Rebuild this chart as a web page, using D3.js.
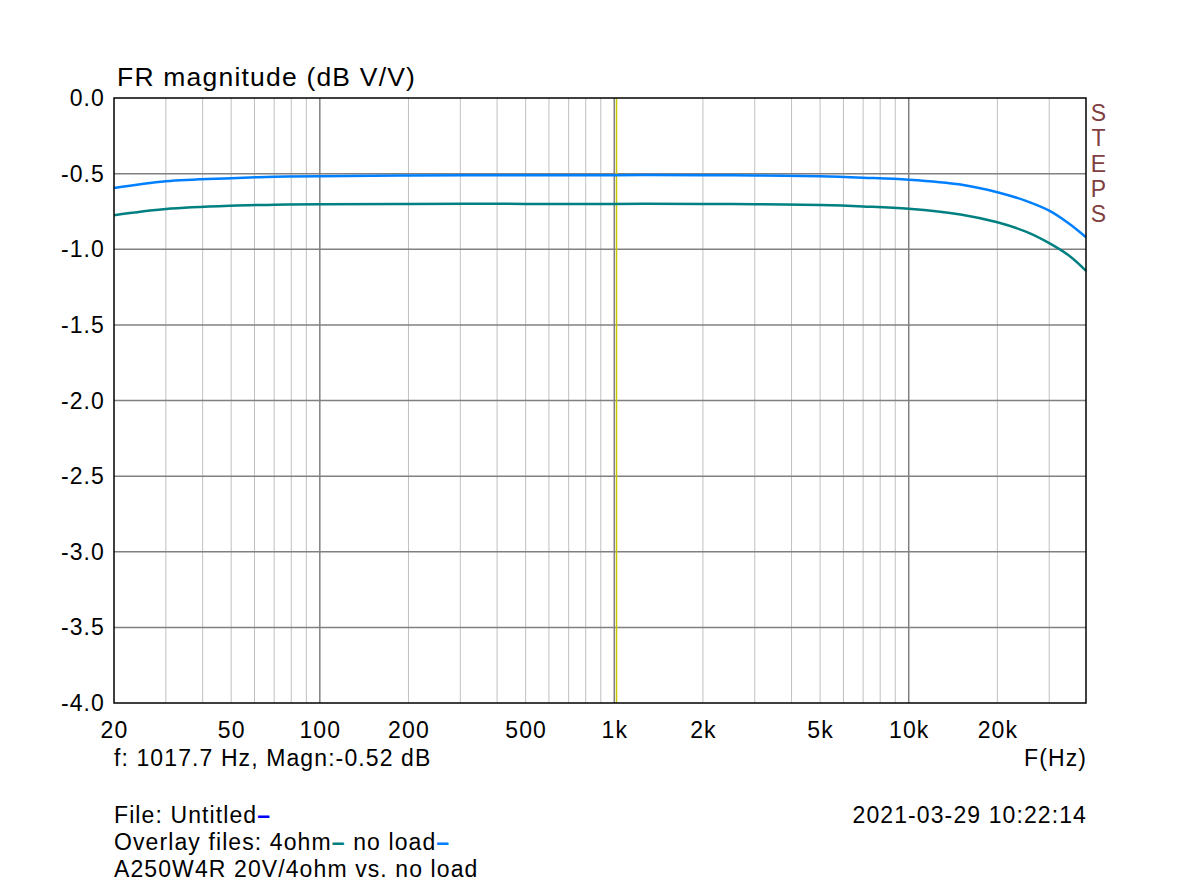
<!DOCTYPE html>
<html lang="en">
<head>
<meta charset="UTF-8">
<title>FR magnitude</title>
<script src="https://cdn.jsdelivr.net/npm/d3@7"></script>
<style>
  body { margin: 0; background: #fff; }
  svg text { font-family: "Liberation Sans", Arial, sans-serif; fill: #000; letter-spacing: 1.1px; }
</style>
</head>
<body>
<script>
// frequency points (Hz)
const freqs = [20, 30, 50, 70, 100, 200, 500, 1000, 2000, 3000, 5000, 7000, 10000, 15000, 20000, 25000, 30000, 35000, 40000];
// "no load" overlay (light blue)
const noLoad = [-0.595, -0.550, -0.530, -0.521, -0.517, -0.512, -0.510, -0.510, -0.510, -0.512, -0.518, -0.527, -0.540, -0.572, -0.623, -0.680, -0.745, -0.830, -0.921];
// "4ohm" overlay (teal)
const fourOhm = [-0.775, -0.734, -0.712, -0.706, -0.703, -0.700, -0.700, -0.700, -0.700, -0.702, -0.708, -0.717, -0.732, -0.770, -0.822, -0.884, -0.960, -1.042, -1.143];

const xTicks = [20, 50, 100, 200, 500, 1000, 2000, 5000, 10000, 20000];
const xTickLabels = ["20", "50", "100", "200", "500", "1k", "2k", "5k", "10k", "20k"];
const yTicks = [0, -0.5, -1, -1.5, -2, -2.5, -3, -3.5, -4];
const cursorFreq = 1017.7;

const width = 1200, height = 888;
const plotLeft = 114, plotRight = 1086, plotTop = 98, plotBottom = 703;

const svg = d3.select("body").append("svg")
    .attr("width", width)
    .attr("height", height);

const x = d3.scaleLog().domain([20, 40000]).range([plotLeft, plotRight]);
const y = d3.scaleLinear().domain([-4, 0]).range([plotBottom, plotTop]);

// minor + major vertical grid
const gridFreqs = [];
[10, 100, 1000, 10000].forEach(dec => {
    for (let k = 1; k <= 9; k++) {
        const f = dec * k;
        if (f > 20 && f < 40000) gridFreqs.push(f);
    }
});
const isMajor = d => [100, 1000, 10000].includes(d);
svg.append("g")
    .selectAll("line")
    .data(gridFreqs)
    .join("line")
    .attr("x1", d => x(d)).attr("x2", d => x(d))
    .attr("y1", plotTop).attr("y2", plotBottom)
    .attr("stroke", d => isMajor(d) ? "#808080" : "#c0c0c0")
    .attr("stroke-width", d => isMajor(d) ? 1.5 : 1);

// horizontal grid
svg.append("g")
    .selectAll("line")
    .data(yTicks.slice(1, -1))
    .join("line")
    .attr("x1", plotLeft).attr("x2", plotRight)
    .attr("y1", d => y(d)).attr("y2", d => y(d))
    .attr("stroke", "#808080")
    .attr("stroke-width", 1.5);

// cursor
svg.append("line")
    .attr("x1", x(cursorFreq)).attr("x2", x(cursorFreq))
    .attr("y1", plotTop).attr("y2", plotBottom)
    .attr("stroke", "#c8c800")
    .attr("stroke-width", 1.5);

// curves
const line = d3.line()
    .x(d => x(d[0]))
    .y(d => y(d[1]))
    .curve(d3.curveCatmullRom.alpha(0.5));

svg.append("path")
    .datum(freqs.map((f, i) => [f, fourOhm[i]]))
    .attr("d", line)
    .attr("fill", "none")
    .attr("stroke", "#008080")
    .attr("stroke-width", 2.5);

svg.append("path")
    .datum(freqs.map((f, i) => [f, noLoad[i]]))
    .attr("d", line)
    .attr("fill", "none")
    .attr("stroke", "#0080ff")
    .attr("stroke-width", 2.5);

// frame
svg.append("rect")
    .attr("x", plotLeft).attr("y", plotTop)
    .attr("width", plotRight - plotLeft).attr("height", plotBottom - plotTop)
    .attr("fill", "none")
    .attr("stroke", "#000")
    .attr("stroke-width", 1.5);

// y tick labels (plain hyphen like the original)
svg.append("g")
    .selectAll("text")
    .data(yTicks)
    .join("text")
    .attr("x", 105)
    .attr("y", d => y(d) + 8)
    .attr("text-anchor", "end")
    .attr("font-size", 23)
    .text(d => d.toFixed(1).replace("\u2212", "-"));

// x tick labels
svg.append("g")
    .selectAll("text")
    .data(xTicks)
    .join("text")
    .attr("x", d => x(d) + 0.5)
    .attr("y", 738)
    .attr("text-anchor", "middle")
    .attr("font-size", 23)
    .text((d, i) => xTickLabels[i]);

// title
svg.append("text")
    .attr("x", 117).attr("y", 86)
    .attr("font-size", 26.5)
    .style("letter-spacing", "1.2px")
    .text("FR magnitude (dB V/V)");

// STEPS vertical
const steps = "STEPS".split("");
svg.append("g")
    .selectAll("text")
    .data(steps)
    .join("text")
    .attr("x", 1098.5)
    .attr("y", (d, i) => 121 + i * 25.3)
    .attr("text-anchor", "middle")
    .attr("font-size", 23)
    .style("fill", "#804040")
    .style("letter-spacing", "0px")
    .text(d => d);

// cursor readout & axis name
svg.append("text")
    .attr("x", 114).attr("y", 766)
    .attr("font-size", 23)
    .text("f: 1017.7 Hz, Magn:-0.52 dB");

svg.append("text")
    .attr("x", 1087).attr("y", 766)
    .attr("text-anchor", "end")
    .attr("font-size", 23)
    .text("F(Hz)");

// footer
function footerLine(yPos, parts) {
    const t = svg.append("text")
        .attr("x", 114).attr("y", yPos)
        .attr("font-size", 23);
    parts.forEach(p => {
        const s = t.append("tspan").text(p.text);
        if (p.color) s.style("fill", p.color).attr("font-weight", "bold");
    });
}
footerLine(823, [{ text: "File: Untitled" }, { text: "\u2013", color: "#0000ff" }]);
footerLine(850, [{ text: "Overlay files: 4ohm" }, { text: "\u2013", color: "#008080" },
                 { text: " no load" }, { text: "\u2013", color: "#0080ff" }]);
footerLine(877, [{ text: "A250W4R 20V/4ohm vs. no load" }]);

svg.append("text")
    .attr("x", 1087).attr("y", 823)
    .attr("text-anchor", "end")
    .attr("font-size", 23)
    .text("2021-03-29 10:22:14");
</script>
</body>
</html>
